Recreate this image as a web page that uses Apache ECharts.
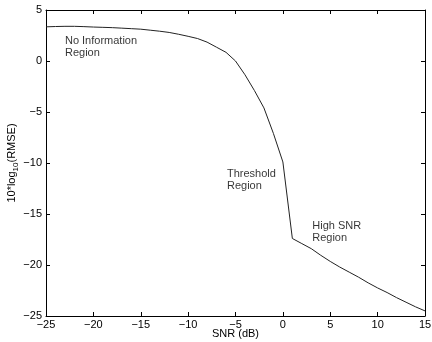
<!DOCTYPE html>
<html>
<head>
<meta charset="utf-8">
<script src="https://cdn.jsdelivr.net/npm/echarts@6/dist/echarts.min.js"></script>
<style>
  html, body { margin: 0; padding: 0; background: #fff; }
  #main { width: 432px; height: 342px; }
</style>
</head>
<body>
<div id="main"></div>
<script>
// SNR (dB) and 10*log10(RMSE)
var snr = [-25, -24, -23, -22, -21, -20, -19, -18, -17, -16, -15, -14, -13, -12, -11, -10,
  -9, -8, -7, -6, -5, -4, -3, -2, -1, 0, 1, 2, 3, 4, 5, 6, 7, 8, 9, 10, 11, 12, 13, 14, 15];
var rmse = [3.35, 3.38, 3.40, 3.40, 3.37, 3.33, 3.30, 3.27, 3.22, 3.17, 3.12, 3.02, 2.92, 2.80, 2.62, 2.42,
  2.20, 1.85, 1.35, 0.85, 0.0, -1.35, -2.9, -4.6, -7.1, -9.9, -17.4, -17.9, -18.4, -19.05, -19.65,
  -20.2, -20.7, -21.2, -21.75, -22.25, -22.7, -23.2, -23.65, -24.1, -24.5];

var xTicks = [-25, -20, -15, -10, -5, 0, 5, 10, 15];
var yTicks = [-25, -20, -15, -10, -5, 0, 5];

// region notes: text and where they sit (left edge, middle) in data units
var noteText = ['No Information\nRegion', 'Threshold\nRegion', 'High SNR\nRegion'];
var noteX = [-23.0, -5.9, 3.1];
var noteY = [1.35, -11.7, -16.8];

var font = 'Liberation Sans, Arial, Helvetica, sans-serif';
var fmt = function (v) { return String(v).replace('-', '\u2212'); };

var chart = echarts.init(document.getElementById('main'));

var baseX = {
  type: 'value', min: xTicks[0], max: xTicks[xTicks.length - 1], interval: 5,
  axisLine: {show: true, onZero: false, lineStyle: {color: '#000', width: 1}},
  axisTick: {show: true, inside: true, length: 4, lineStyle: {color: '#000'}},
  splitLine: {show: false}
};
var baseY = {
  type: 'value', min: yTicks[0], max: yTicks[yTicks.length - 1], interval: 5,
  axisLine: {show: true, onZero: false, lineStyle: {color: '#000', width: 1}},
  axisTick: {show: true, inside: true, length: 4, lineStyle: {color: '#000'}},
  splitLine: {show: false}
};

chart.setOption({
  animation: false,
  textStyle: {fontFamily: font},
  grid: {left: 46, right: 7, top: 10, bottom: 26, containLabel: false, outerBoundsMode: 'none'},
  xAxis: [
    Object.assign({}, baseX, {
      position: 'bottom',
      name: 'SNR (dB)', nameLocation: 'middle', nameGap: 12, nameMoveOverlap: false,
      nameTextStyle: {color: '#000', fontSize: 11, fontFamily: font},
      axisLabel: {color: '#000', fontSize: 11, margin: 3, fontFamily: font, formatter: fmt}
    }),
    Object.assign({}, baseX, {position: 'top', axisLabel: {show: false}})
  ],
  yAxis: [
    Object.assign({}, baseY, {
      position: 'left',
      name: '{a|10*log}{s|10}{a|(RMSE)}', nameLocation: 'middle', nameGap: 26, nameRotate: 90,
      nameMoveOverlap: false,
      nameTextStyle: {
        color: '#000', fontFamily: font,
        rich: {
          a: {fontSize: 11, color: '#000', fontFamily: font, lineHeight: 16, verticalAlign: 'middle'},
          s: {fontSize: 8, color: '#000', fontFamily: font, lineHeight: 16, verticalAlign: 'bottom', padding: [6, 0, 0, 0]}
        }
      },
      axisLabel: {color: '#000', fontSize: 11, margin: 4, fontFamily: font, formatter: fmt}
    }),
    Object.assign({}, baseY, {position: 'right', axisLabel: {show: false}})
  ],
  series: [
    {
      type: 'line',
      data: snr.map(function (x, i) { return [x, rmse[i]]; }),
      showSymbol: false,
      symbol: 'none',
      lineStyle: {color: '#222', width: 1},
      z: 3
    },
    {
      type: 'scatter',
      data: noteText.map(function (t, i) { return {value: [noteX[i], noteY[i]], name: t}; }),
      symbolSize: 0,
      silent: true,
      label: {
        show: true, position: 'right', distance: 0,
        formatter: function (p) { return p.name; },
        color: '#000', fontSize: 11, lineHeight: 12, fontFamily: font, align: 'left'
      }
    }
  ]
});
</script>
</body>
</html>
